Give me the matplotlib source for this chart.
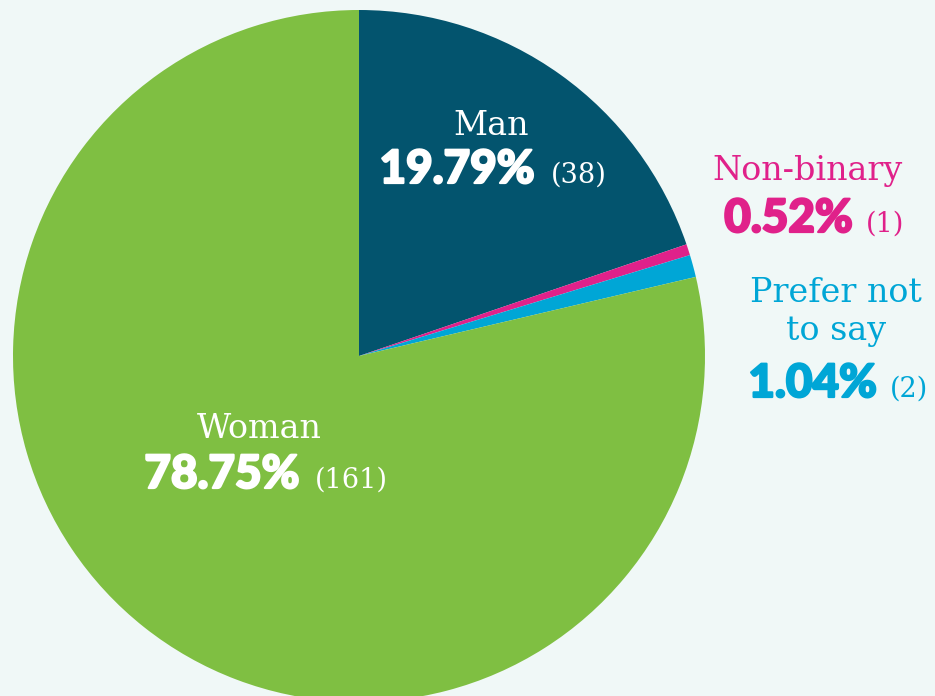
"""Gender breakdown pie chart."""

import matplotlib.pyplot as plt
import matplotlib.patheffects as pe

labels = ["Man", "Non-binary", "Prefer not\nto say", "Woman"]
percents = [19.79, 0.52, 1.04, 78.75]
counts = [38, 1, 2, 161]
colors = ["#03546e", "#e0218a", "#00a6d6", "#7fbf42"]
label_colors = ["white", "#e0218a", "#00a6d6", "white"]

BG = "#f0f8f7"
W, H = 935, 696


def main() -> None:
    fig = plt.figure(figsize=(W / 100, H / 100), dpi=100, facecolor=BG)
    ax = fig.add_axes([0, 0, 1, 1])
    ax.set_facecolor(BG)

    # pie in pixel coordinates (y up)
    ax.pie(percents, colors=colors, startangle=90, counterclock=False,
           center=(359, H - 356), radius=346,
           wedgeprops=dict(linewidth=0))
    ax.set_xlim(0, W)
    ax.set_ylim(0, H)
    ax.set_aspect("equal")
    ax.axis("off")

    # (label x-center, first label baseline y, pct right x, count left x, pct baseline y)
    spots = [
        (491, 135, 535, 551, 183),
        (808, 180, 853, 866, 232),
        (836, 302, 877, 890, 397),
        (259, 438, 300, 315, 488),
    ]
    serif = "DejaVu Serif"
    for lab, pct, n, col, (lx, ly, px, cx, py) in zip(labels, percents, counts,
                                                       label_colors, spots):
        for i, line in enumerate(lab.split("\n")):
            ax.text(lx, H - ly - i * 38, line, ha="center", va="baseline",
                    color=col, family=serif, fontsize=24)
        ax.text(px, H - py, f"{pct:.2f}%", ha="right", va="baseline",
                color=col, family="Lato", weight="black", fontsize=33,
                path_effects=[pe.withStroke(linewidth=1.6, foreground=col)])
        ax.text(cx, H - py, f"({n})", ha="left", va="baseline", color=col,
                family=serif, fontsize=19.5)

    fig.savefig("out.png", dpi=100, facecolor=BG)
    plt.close(fig)


if __name__ == "__main__":
    main()
